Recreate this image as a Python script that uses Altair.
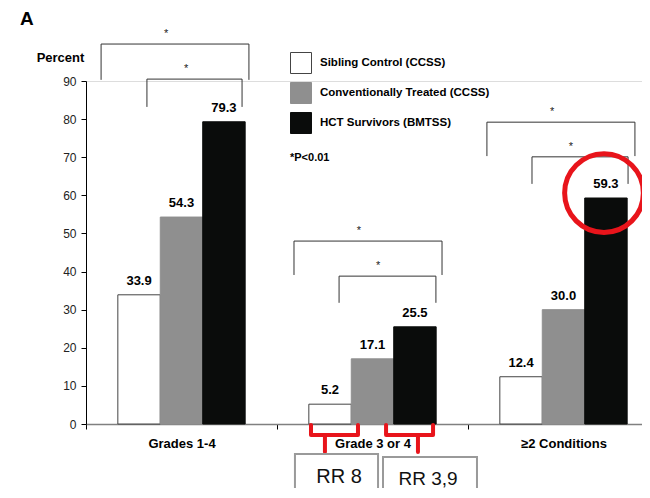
import altair as alt
import pandas as pd

FONT = "Liberation Sans"

# ---------------- data ----------------
categories = ["Grades 1-4", "Grade 3 or 4", "≥2 Conditions"]
groups = ["Sibling Control (CCSS)", "Conventionally Treated (CCSS)", "HCT Survivors (BMTSS)"]
sibling = [33.9, 5.2, 12.4]
conventional = [54.3, 17.1, 30.0]
hct = [79.3, 25.5, 59.3]

fills = ["#ffffff", "#8f8f8f", "#0a0c0b"]
strokes = ["#444444", "#8f8f8f", "#0a0c0b"]

rows = []
for g, vals in zip(groups, [sibling, conventional, hct]):
    for c, v in zip(categories, vals):
        rows.append({"Category": c, "Group": g, "Value": v, "Label": f"{v:.1f}"})
df = pd.DataFrame(rows)

# ---------------- annotation geometry (category units / percent units) ----------------
outer_left = [0.079, 1.089, 2.099]
outer_right = [0.853, 1.864, 2.874]
outer_top = [99.7, 48.0, 79.2]
outer_leg = [90.3, 39.1, 70.3]
inner_left = [0.319, 1.325, 2.335]
inner_right = [0.817, 1.832, 2.838]
inner_top = [90.5, 38.8, 70.1]
inner_leg = [83.2, 31.8, 63.0]
star_outer_x = [0.419, 1.429, 2.440]
star_inner_x = [0.524, 1.529, 2.539]

seg = []
stars = []
for i in range(3):
    for l, r, t, b, sx in [
        (outer_left[i], outer_right[i], outer_top[i], outer_leg[i], star_outer_x[i]),
        (inner_left[i], inner_right[i], inner_top[i], inner_leg[i], star_inner_x[i]),
    ]:
        seg.append({"x": l, "x2": l, "y": t, "y2": b})
        seg.append({"x": l, "x2": r, "y": t, "y2": t})
        seg.append({"x": r, "x2": r, "y": t, "y2": b})
        stars.append({"x": sx, "y": t, "t": "*"})
seg_df = pd.DataFrame(seg)
star_df = pd.DataFrame(stars)

XR = [0, 573]
xq = alt.Scale(domain=[0, 3], range=XR)
yscale = alt.Scale(domain=[0, 90], nice=False, zero=False)
yaxis = alt.Axis(
    values=list(range(0, 91, 10)), grid=False, domainColor="#000000", tickColor="#000000",
    tickSize=5, labelFontSize=12, labelColor="#222222", labelPadding=5, labelFont=FONT,
    title="Percent", titleAngle=0, titleX=-26, titleY=-24, titleAlign="center",
    titleBaseline="middle", titleFontSize=13, titleFontWeight="bold", titleFont=FONT,
    titleColor="#000000",
)

xband = alt.Scale(domain=categories, range=XR, paddingInner=0, paddingOuter=0)
xoff = alt.Scale(domain=groups, paddingOuter=0.75, paddingInner=0)

legend = alt.Legend(
    orient="none", legendX=204, legendY=-29, symbolType="square", symbolSize=441,
    rowPadding=4, labelFontSize=11.5, labelFontWeight="bold", labelFont=FONT,
    labelColor="#000000", padding=0, symbolStrokeWidth=1, labelOffset=8, labelLimit=300,
    title=None,
)

bars = alt.Chart(df).mark_bar(strokeWidth=1).encode(
    x=alt.X("Category:N", sort=categories, scale=xband,
            axis=alt.Axis(title=None, labelAngle=0, labelFontSize=13, labelFontWeight="bold",
                          labelColor="#000000", labelFont=FONT, tickBand="extent", tickSize=5,
                          tickColor="#000000", domainColor="#808080", domainWidth=1.5,
                          labelPadding=8)),
    xOffset=alt.XOffset("Group:N", sort=groups, scale=xoff),
    y=alt.Y("Value:Q", scale=yscale, axis=yaxis),
    fill=alt.Fill("Group:N", scale=alt.Scale(domain=groups, range=fills), legend=legend),
    stroke=alt.Stroke("Group:N", scale=alt.Scale(domain=groups, range=strokes), legend=legend),
)

labels = alt.Chart(df).mark_text(
    dy=-10, baseline="alphabetic", fontSize=13, fontWeight="bold", font=FONT, color="#000000"
).encode(
    x=alt.X("Category:N", sort=categories, scale=xband, axis=None),
    xOffset=alt.XOffset("Group:N", sort=groups, scale=xoff),
    y=alt.Y("Value:Q", scale=yscale, axis=yaxis),
    text="Label:N",
)

brackets = alt.Chart(seg_df).mark_rule(color="#333333", strokeWidth=1).encode(
    x=alt.X("x:Q", scale=xq, axis=None), x2="x2:Q",
    y=alt.Y("y:Q", scale=yscale, axis=yaxis), y2="y2:Q",
)

star_text = alt.Chart(star_df).mark_text(
    dy=-7, baseline="alphabetic", fontSize=11, font=FONT, color="#222222"
).encode(
    x=alt.X("x:Q", scale=xq, axis=None),
    y=alt.Y("y:Q", scale=yscale, axis=yaxis),
    text="t:N",
)

note_df = pd.DataFrame({"x": [1.068], "y": [69.0], "t": ["*P<0.01"]})
note = alt.Chart(note_df).mark_text(
    align="left", baseline="alphabetic", fontSize=11, fontWeight="bold", font=FONT, color="#000000"
).encode(
    x=alt.X("x:Q", scale=xq, axis=None),
    y=alt.Y("y:Q", scale=yscale, axis=yaxis),
    text="t:N",
)

circ_df = pd.DataFrame({"x": [2.712], "y": [60.6]})
circle = alt.Chart(circ_df).mark_point(
    shape="circle", filled=False, color="#e8141b", strokeWidth=5, size=6200, opacity=1
).encode(
    x=alt.X("x:Q", scale=xq, axis=None),
    y=alt.Y("y:Q", scale=yscale, axis=yaxis),
)

brace_pts = []
for bid, (L, R, S) in enumerate([(1.178, 1.424, 1.251), (1.571, 1.817, 1.738)]):
    for k, (px, py) in enumerate([(L, -0.26), (L, -2.89), (R, -2.89), (R, -0.26)]):
        brace_pts.append({"id": f"b{bid}", "o": k, "x": px, "y": py})
    for k, (px, py) in enumerate([(S, -2.89), (S, -7.35)]):
        brace_pts.append({"id": f"s{bid}", "o": k, "x": px, "y": py})
brace_df = pd.DataFrame(brace_pts)
braces = alt.Chart(brace_df).mark_line(
    color="#e8141b", strokeWidth=4, strokeJoin="round", strokeCap="round"
).encode(
    x=alt.X("x:Q", scale=xq, axis=None),
    y=alt.Y("y:Q", scale=yscale, axis=yaxis),
    detail="id:N", order="o:Q",
)

box_df = pd.DataFrame({"x": [1.094, 1.555], "x2": [1.529, 2.047], "y": [-7.87, -8.66], "y2": [-25, -25]})
boxes = alt.Chart(box_df).mark_rect(fill="#ffffff", fillOpacity=0, stroke="#9a9a9a", strokeWidth=2).encode(
    x=alt.X("x:Q", scale=xq, axis=None), x2="x2:Q",
    y=alt.Y("y:Q", scale=yscale, axis=yaxis), y2="y2:Q",
)
boxtext_df = pd.DataFrame({"x": [1.325, 1.791], "y": [-15.4, -15.9], "t": ["RR 8", "RR 3,9"], "s": [20, 19]})
boxtext = alt.Chart(boxtext_df).mark_text(
    align="center", baseline="alphabetic", font=FONT, color="#111111"
).encode(
    x=alt.X("x:Q", scale=xq, axis=None),
    y=alt.Y("y:Q", scale=yscale, axis=yaxis),
    text="t:N",
    size=alt.Size("s:Q", scale=None, legend=None),
)

title_df = pd.DataFrame({"t": ["A"]})
title = alt.Chart(title_df).mark_text(
    align="left", baseline="alphabetic", fontSize=19, fontWeight="bold", font=FONT, color="#000000"
).encode(x=alt.value(-66), y=alt.value(-56), text="t:N")

chart = alt.layer(
    bars, labels, brackets, star_text, note, braces, boxes, boxtext, circle, title
).resolve_scale(x="independent").properties(
    width=556, height=343,
    autosize=alt.AutoSizeParams(type="none"),
    padding={"left": 78, "top": 73, "right": 0, "bottom": 64},
).configure_view(stroke=None).configure(background="#ffffff")

chart.save("out.html", embed_options={"renderer": "svg", "actions": False})
